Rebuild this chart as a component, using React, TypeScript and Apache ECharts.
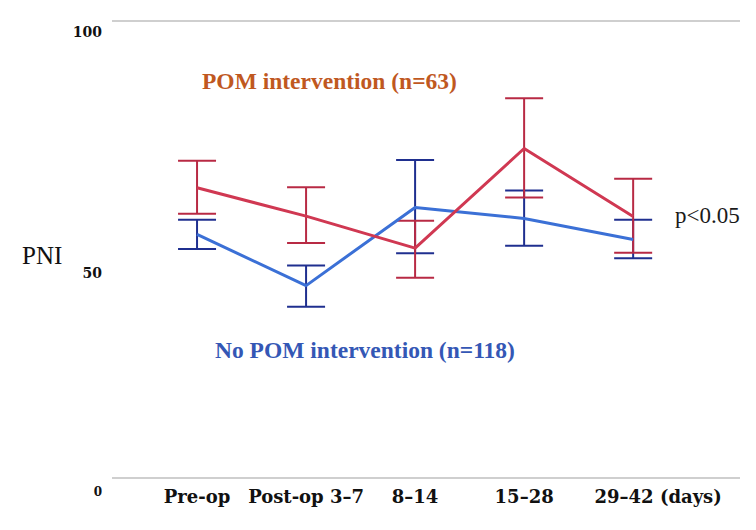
import React, { useEffect, useRef } from 'react';
import * as echarts from 'echarts';

// Categories (time points)
const categories = ['Pre-op', 'Post-op 3–7', '8–14', '15–28', '29–42'];
const lastLabelSuffix = ' (days)';

// POM intervention (n=63)
const pomMean = [63.5, 57.3, 50.3, 72.1, 57.2];
const pomLow = [57.8, 51.4, 43.8, 61.4, 49.3];
const pomHigh = [69.4, 63.6, 56.3, 83.1, 65.5];

// No POM intervention (n=118)
const noPomMean = [53.3, 42.1, 59.2, 56.8, 52.2];
const noPomLow = [50.1, 37.5, 49.2, 50.8, 48.1];
const noPomHigh = [56.5, 46.5, 69.6, 62.9, 56.5];

// Y tick labels
const yTicks = [0, 50, 100];

export default function App() {
  const ref = useRef<HTMLDivElement>(null);

  useEffect(() => {
    const chart = echarts.init(ref.current!, null, { renderer: 'svg' });

    const errorSeries = (name: string, low: number[], high: number[], color: string) => ({
      type: 'custom',
      name,
      data: low.map((l, i) => [i, l, high[i]]),
      encode: { x: 0, y: [1, 2] },
      z: 2,
      renderItem: (params: any, api: any) => {
        const x = api.value(0);
        const lo = api.coord([x, api.value(1)]);
        const hi = api.coord([x, api.value(2)]);
        const hw = 19;
        const style = { stroke: color, lineWidth: 2 };
        return {
          type: 'group',
          children: [
            { type: 'line', shape: { x1: lo[0], y1: lo[1], x2: hi[0], y2: hi[1] }, style },
            { type: 'line', shape: { x1: lo[0] - hw, y1: lo[1], x2: lo[0] + hw, y2: lo[1] }, style },
            { type: 'line', shape: { x1: hi[0] - hw, y1: hi[1], x2: hi[0] + hw, y2: hi[1] }, style },
          ],
        };
      },
    });

    const lineSeries = (name: string, mean: number[], color: string, z: number) => ({
      type: 'line',
      name,
      data: mean.map((v, i) => [i, v]),
      symbol: 'none',
      lineStyle: { color, width: 3 },
      z,
    });

    chart.setOption({
      animation: false,
      backgroundColor: '#ffffff',
      grid: { left: 112, right: 16, top: 21, bottom: 52, containLabel: false },
      xAxis: {
        type: 'value',
        min: -0.78,
        max: 4.98,
        axisLine: { show: false },
        axisTick: { show: false },
        splitLine: { show: false },
        axisLabel: {
          customValues: categories.map((_, i) => i),
          margin: 9,
          fontFamily: 'DejaVu Serif',
          fontWeight: 'bold',
          fontSize: 18,
          color: '#111',
          formatter: (v: number) => {
            const i = Math.round(v);
            if (i === categories.length - 1) return '{d|' + categories[i] + lastLabelSuffix + '}';
            return categories[i] ?? '';
          },
          rich: {
            d: {
              fontFamily: 'DejaVu Serif',
              fontWeight: 'bold',
              fontSize: 18,
              color: '#111',
              padding: [0, 0, 0, 50],
            },
          },
        },
      },
      yAxis: {
        type: 'value',
        min: 0,
        max: 100,
        interval: 50,
        axisLine: { show: false },
        axisTick: { show: false },
        axisLabel: { show: false },
        splitLine: { show: true, lineStyle: { color: ['#bfbfbf', 'rgba(0,0,0,0)'], width: 1.5 } },
      },
      series: [
        errorSeries('No POM error', noPomLow, noPomHigh, '#1f2f8f'),
        errorSeries('POM error', pomLow, pomHigh, '#b82a44'),
        lineSeries('No POM intervention (n=118)', noPomMean, '#3b70d6', 3),
        lineSeries('POM intervention (n=63)', pomMean, '#d03852', 4),
      ],
    });

    const yShift = [14, 23, 11];
    const ySize = [12, 14, 14];
    const yLabels = yTicks.map((v, i) => ({
      type: 'text',
      x: 102,
      y: (chart.convertToPixel({ yAxisIndex: 0 }, v) as number) + yShift[i],
      style: {
        text: String(v),
        align: 'right',
        verticalAlign: 'middle',
        fontFamily: 'DejaVu Serif',
        fontWeight: 'bold',
        fontSize: ySize[i],
        fill: '#111',
      },
    }));

    chart.setOption({
      graphic: [
        ...yLabels,
        {
          type: 'text',
          x: 22,
          y: 255,
          style: {
            text: 'PNI',
            verticalAlign: 'middle',
            fontFamily: 'Liberation Serif',
            fontSize: 25,
            fill: '#111',
          },
        },
        {
          type: 'text',
          x: 202,
          y: 81,
          style: {
            text: 'POM intervention (n=63)',
            verticalAlign: 'middle',
            fontFamily: 'Liberation Serif',
            fontWeight: 'bold',
            fontSize: 23.5,
            fill: '#c0581f',
          },
        },
        {
          type: 'text',
          x: 215,
          y: 350,
          style: {
            text: 'No POM intervention (n=118)',
            verticalAlign: 'middle',
            fontFamily: 'Liberation Serif',
            fontWeight: 'bold',
            fontSize: 23.5,
            fill: '#3457b5',
          },
        },
        {
          type: 'text',
          x: 675,
          y: 215,
          style: {
            text: 'p<0.05',
            verticalAlign: 'middle',
            fontFamily: 'Liberation Serif',
            fontSize: 23,
            fill: '#1a1a1a',
          },
        },
      ],
    });

    return () => chart.dispose();
  }, []);

  return (
    <div
      ref={ref}
      style={{ position: 'fixed', left: 0, top: 0, width: 756, height: 530, background: '#fff' }}
    />
  );
}
